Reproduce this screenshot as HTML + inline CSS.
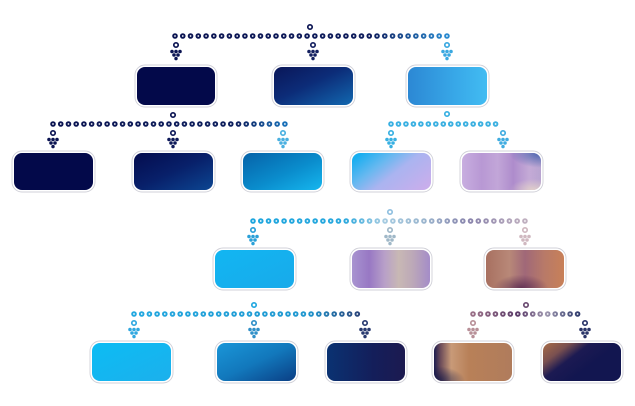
<!DOCTYPE html>
<html><head><meta charset="utf-8"><style>
html,body{margin:0;padding:0;background:#fff;}
svg{display:block;}
</style></head><body>
<svg width="635" height="406" viewBox="0 0 635 406" xmlns="http://www.w3.org/2000/svg">
<defs>
<symbol id="cl" overflow="visible">
  <circle cx="0" cy="0" r="2.2" fill="#fff" stroke="currentColor" stroke-width="1.7"/>
  <circle cx="-4" cy="6.5" r="1.8" fill="currentColor"/>
  <circle cx="0" cy="6.5" r="1.8" fill="currentColor"/>
  <circle cx="4" cy="6.5" r="1.8" fill="currentColor"/>
  <circle cx="-2" cy="10" r="1.8" fill="currentColor"/>
  <circle cx="2" cy="10" r="1.8" fill="currentColor"/>
  <circle cx="0" cy="13.6" r="1.7" fill="currentColor"/>
</symbol>
<linearGradient id="l1" gradientUnits="userSpaceOnUse" x1="175" y1="0" x2="446" y2="0">
 <stop offset="0" stop-color="#0b1452"/><stop offset="0.72" stop-color="#0e1c5c"/><stop offset="1" stop-color="#2a8ad0"/></linearGradient>
<linearGradient id="l2" gradientUnits="userSpaceOnUse" x1="53" y1="0" x2="284" y2="0">
 <stop offset="0" stop-color="#0b1452"/><stop offset="0.8" stop-color="#0e205e"/><stop offset="1" stop-color="#1a70b8"/></linearGradient>
<linearGradient id="l3" gradientUnits="userSpaceOnUse" x1="391" y1="0" x2="503" y2="0">
 <stop offset="0" stop-color="#38b0e2"/><stop offset="1" stop-color="#3cb0e0"/></linearGradient>
<linearGradient id="l4" gradientUnits="userSpaceOnUse" x1="253" y1="0" x2="525" y2="0">
 <stop offset="0" stop-color="#1ea6de"/><stop offset="0.33" stop-color="#28a8de"/><stop offset="0.48" stop-color="#a6cce2"/><stop offset="0.62" stop-color="#9cb8d0"/><stop offset="0.8" stop-color="#8a84ac"/><stop offset="1" stop-color="#c0b0c0"/></linearGradient>
<linearGradient id="l5" gradientUnits="userSpaceOnUse" x1="134" y1="0" x2="365" y2="0">
 <stop offset="0" stop-color="#22a8e0"/><stop offset="0.75" stop-color="#2098d0"/><stop offset="1" stop-color="#2a3a70"/></linearGradient>
<linearGradient id="l6" gradientUnits="userSpaceOnUse" x1="473" y1="0" x2="585" y2="0">
 <stop offset="0" stop-color="#9a7088"/><stop offset="0.4" stop-color="#5a3a68"/><stop offset="0.65" stop-color="#a098b0"/><stop offset="1" stop-color="#1a2a60"/></linearGradient>
<linearGradient id="g12" x1="0" y1="0" x2="1" y2="1"><stop offset="0" stop-color="#0a1658"/><stop offset="0.45" stop-color="#0c2c78"/><stop offset="1" stop-color="#1268b0"/></linearGradient>
<linearGradient id="g13" x1="0" y1="0" x2="1" y2="0"><stop offset="0" stop-color="#2c88d4"/><stop offset="0.6" stop-color="#38a8e8"/><stop offset="1" stop-color="#42bcf2"/></linearGradient>
<linearGradient id="g22" x1="0" y1="0" x2="1" y2="1"><stop offset="0" stop-color="#040c4e"/><stop offset="0.5" stop-color="#08206a"/><stop offset="1" stop-color="#0c4692"/></linearGradient>
<linearGradient id="g23" x1="0" y1="0" x2="1" y2="1"><stop offset="0" stop-color="#0662a8"/><stop offset="0.55" stop-color="#0a8ccc"/><stop offset="1" stop-color="#16b6ee"/></linearGradient>
<linearGradient id="g24" x1="0" y1="0.2" x2="1" y2="0.8"><stop offset="0" stop-color="#18aef0"/><stop offset="0.3" stop-color="#66b8f0"/><stop offset="0.55" stop-color="#aab4f0"/><stop offset="1" stop-color="#c8aeec"/></linearGradient>
<linearGradient id="g25" x1="0" y1="0" x2="1" y2="0"><stop offset="0" stop-color="#c8aee0"/><stop offset="0.25" stop-color="#b898d4"/><stop offset="0.45" stop-color="#c2a6d8"/><stop offset="0.65" stop-color="#ae8ccc"/><stop offset="0.85" stop-color="#c4aad6"/><stop offset="1" stop-color="#b8a4d0"/></linearGradient>
<radialGradient id="g25b" cx="1" cy="0" r="0.4"><stop offset="0" stop-color="#3458a8" stop-opacity="0.85"/><stop offset="1" stop-color="#3458a8" stop-opacity="0"/></radialGradient>
<radialGradient id="g25c" cx="0.9" cy="1" r="0.3"><stop offset="0" stop-color="#e8d8c8" stop-opacity="0.8"/><stop offset="1" stop-color="#e8d8c8" stop-opacity="0"/></radialGradient>
<linearGradient id="g31" x1="0" y1="0" x2="1" y2="1"><stop offset="0" stop-color="#12b6f2"/><stop offset="1" stop-color="#18aaea"/></linearGradient>
<linearGradient id="g32" x1="0" y1="0" x2="1" y2="0"><stop offset="0" stop-color="#a894d0"/><stop offset="0.22" stop-color="#9878c4"/><stop offset="0.42" stop-color="#b8a0c8"/><stop offset="0.6" stop-color="#c8b8b4"/><stop offset="0.78" stop-color="#bca8b8"/><stop offset="1" stop-color="#a48cc8"/></linearGradient>
<linearGradient id="g33" x1="0" y1="0" x2="1" y2="0"><stop offset="0" stop-color="#a87060"/><stop offset="0.3" stop-color="#b88878"/><stop offset="0.5" stop-color="#a06878"/><stop offset="0.75" stop-color="#b87a68"/><stop offset="1" stop-color="#c88058"/></linearGradient>
<radialGradient id="g33b" cx="0.45" cy="1" r="0.35"><stop offset="0" stop-color="#5a2a50" stop-opacity="0.85"/><stop offset="1" stop-color="#5a2a50" stop-opacity="0"/></radialGradient>
<linearGradient id="g41" x1="0" y1="0" x2="1" y2="1"><stop offset="0" stop-color="#0cbcf4"/><stop offset="1" stop-color="#1cb0ec"/></linearGradient>
<linearGradient id="g42" x1="0" y1="0" x2="1" y2="1"><stop offset="0" stop-color="#1a96d8"/><stop offset="0.5" stop-color="#1278bc"/><stop offset="1" stop-color="#0a3e84"/></linearGradient>
<linearGradient id="g43" x1="0" y1="0" x2="1" y2="0"><stop offset="0" stop-color="#0a3272"/><stop offset="0.6" stop-color="#141e5a"/><stop offset="1" stop-color="#1c1a50"/></linearGradient>
<linearGradient id="g44" x1="0" y1="0" x2="1" y2="0"><stop offset="0" stop-color="#1c1c50"/><stop offset="0.08" stop-color="#6a4a58"/><stop offset="0.22" stop-color="#c89a78"/><stop offset="0.45" stop-color="#b88058"/><stop offset="1" stop-color="#b07c5c"/></linearGradient>
<radialGradient id="g44b" cx="0" cy="1" r="0.4"><stop offset="0" stop-color="#141848" stop-opacity="0.9"/><stop offset="1" stop-color="#141848" stop-opacity="0"/></radialGradient>
<linearGradient id="g45" x1="0" y1="0" x2="0.7" y2="0.45"><stop offset="0" stop-color="#a86c48"/><stop offset="0.35" stop-color="#7a5050"/><stop offset="0.62" stop-color="#1c1a52"/><stop offset="1" stop-color="#121650"/></linearGradient>
</defs>

<g stroke="#d0d0d8" stroke-width="0.9" fill="#fff">
 <rect x="135" y="65" width="82" height="42" rx="10"/>
 <rect x="272" y="65" width="83" height="42" rx="10"/>
 <rect x="406" y="65" width="83" height="42" rx="10"/>
 <rect x="12" y="151" width="83" height="41" rx="10"/>
 <rect x="132" y="151" width="83" height="41" rx="10"/>
 <rect x="241" y="151" width="83" height="41" rx="10"/>
 <rect x="350" y="151" width="83" height="41" rx="10"/>
 <rect x="460" y="151" width="83" height="41" rx="10"/>
 <rect x="213" y="248" width="83" height="42" rx="10"/>
 <rect x="350" y="248" width="82" height="42" rx="10"/>
 <rect x="484" y="248" width="82" height="42" rx="10"/>
 <rect x="90" y="341" width="83" height="42" rx="10"/>
 <rect x="215" y="341" width="83" height="42" rx="10"/>
 <rect x="325" y="341" width="82" height="42" rx="10"/>
 <rect x="432" y="341" width="82" height="42" rx="10"/>
 <rect x="541" y="341" width="82" height="42" rx="10"/>
</g>
<rect x="137" y="67" width="78" height="38" rx="8" fill="#03094a"/>
<rect x="274" y="67" width="79" height="38" rx="8" fill="url(#g12)"/>
<rect x="408" y="67" width="79" height="38" rx="8" fill="url(#g13)"/>
<rect x="14" y="153" width="79" height="37" rx="8" fill="#03094a"/>
<rect x="134" y="153" width="79" height="37" rx="8" fill="url(#g22)"/>
<rect x="243" y="153" width="79" height="37" rx="8" fill="url(#g23)"/>
<rect x="352" y="153" width="79" height="37" rx="8" fill="url(#g24)"/>
<rect x="462" y="153" width="79" height="37" rx="8" fill="url(#g25)"/>
<rect x="462" y="153" width="79" height="37" rx="8" fill="url(#g25b)"/>
<rect x="462" y="153" width="79" height="37" rx="8" fill="url(#g25c)"/>
<rect x="215" y="250" width="79" height="38" rx="8" fill="url(#g31)"/>
<rect x="352" y="250" width="78" height="38" rx="8" fill="url(#g32)"/>
<rect x="486" y="250" width="78" height="38" rx="8" fill="url(#g33)"/>
<rect x="486" y="250" width="78" height="38" rx="8" fill="url(#g33b)"/>
<rect x="92" y="343" width="79" height="38" rx="8" fill="url(#g41)"/>
<rect x="217" y="343" width="79" height="38" rx="8" fill="url(#g42)"/>
<rect x="327" y="343" width="78" height="38" rx="8" fill="url(#g43)"/>
<rect x="434" y="343" width="78" height="38" rx="8" fill="url(#g44)"/>
<rect x="434" y="343" width="78" height="38" rx="8" fill="url(#g44b)"/>
<rect x="543" y="343" width="78" height="38" rx="8" fill="url(#g45)"/>

<g stroke-linecap="round" fill="none">
 <line x1="175" y1="36" x2="447" y2="36" stroke="url(#l1)" stroke-width="5.6" stroke-dasharray="0 7.77"/>
 <line x1="53" y1="124" x2="285" y2="124" stroke="url(#l2)" stroke-width="5.6" stroke-dasharray="0 7.73"/>
 <line x1="391" y1="124" x2="503" y2="124" stroke="url(#l3)" stroke-width="5.6" stroke-dasharray="0 7.47"/>
 <line x1="253" y1="221" x2="525" y2="221" stroke="url(#l4)" stroke-width="5.6" stroke-dasharray="0 7.77"/>
 <line x1="134" y1="314" x2="365" y2="314" stroke="url(#l5)" stroke-width="5.6" stroke-dasharray="0 7.7"/>
 <line x1="473" y1="314" x2="585" y2="314" stroke="url(#l6)" stroke-width="5.6" stroke-dasharray="0 7.47"/>
 <g stroke="#fff" stroke-width="1.8">
 <line x1="175" y1="36" x2="447" y2="36" stroke-dasharray="0 7.77"/>
 <line x1="53" y1="124" x2="285" y2="124" stroke-dasharray="0 7.73"/>
 <line x1="391" y1="124" x2="503" y2="124" stroke-dasharray="0 7.47"/>
 <line x1="253" y1="221" x2="525" y2="221" stroke-dasharray="0 7.77"/>
 <line x1="134" y1="314" x2="365" y2="314" stroke-dasharray="0 7.7"/>
 <line x1="473" y1="314" x2="585" y2="314" stroke-dasharray="0 7.47"/>
 </g>
</g>

<g fill="#fff" stroke-width="1.7">
 <circle cx="310" cy="27" r="2.2" stroke="#0b1452"/>
 <circle cx="173" cy="115" r="2.2" stroke="#0b1452"/>
 <circle cx="447" cy="114" r="2.2" stroke="#38b0e2"/>
 <circle cx="390" cy="212" r="2.2" stroke="#90c0e0"/>
 <circle cx="254" cy="305" r="2.2" stroke="#22a8e0"/>
 <circle cx="526" cy="305" r="2.2" stroke="#6a4a70"/>
</g>

<use href="#cl" x="176" y="45" style="color:#0b1452"/>
<use href="#cl" x="313" y="45" style="color:#142060"/>
<use href="#cl" x="447" y="45" style="color:#3aa8e0"/>
<use href="#cl" x="53" y="133" style="color:#0b1452"/>
<use href="#cl" x="173" y="133" style="color:#0e1a5a"/>
<use href="#cl" x="283" y="133" style="color:#4ab0e0"/>
<use href="#cl" x="391" y="133" style="color:#38b0e2"/>
<use href="#cl" x="503" y="133" style="color:#40ace0"/>
<use href="#cl" x="253" y="230" style="color:#2aa0d8"/>
<use href="#cl" x="390" y="230" style="color:#a0b8c8"/>
<use href="#cl" x="525" y="230" style="color:#d0b8c0"/>
<use href="#cl" x="134" y="323" style="color:#30a8e0"/>
<use href="#cl" x="254" y="323" style="color:#3090c8"/>
<use href="#cl" x="365" y="323" style="color:#283a70"/>
<use href="#cl" x="473" y="323" style="color:#b89098"/>
<use href="#cl" x="585" y="323" style="color:#2a3468"/>
</svg>
</body></html>
